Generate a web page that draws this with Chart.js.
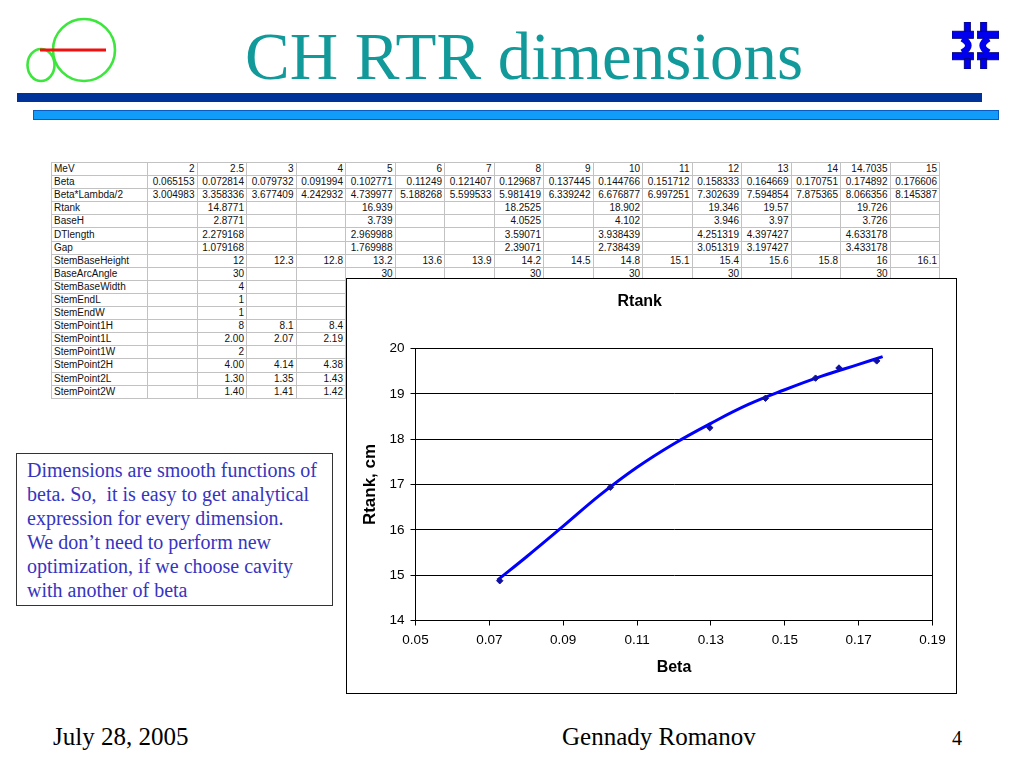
<!DOCTYPE html>
<html>
<head>
<meta charset="utf-8">
<title>CH RTR dimensions</title>
<script src="https://cdn.jsdelivr.net/npm/chart.js@4.4.1/dist/chart.umd.min.js"></script>
<style>
  html, body { margin:0; padding:0; background:#fff; }
  body { width:1024px; height:768px; position:relative; overflow:hidden;
         font-family:"Liberation Serif","Times New Roman",serif; }
  .abs { position:absolute; }

  #slideTitle { left:245px; top:23px; font-size:67px; line-height:67px; color:#129a9a; white-space:nowrap; }
  #barDark  { left:17px; top:93px; width:965px; height:9px; background:#003399; }
  #barLight { left:33px; top:110px; width:966px; height:10px; background:#129cfa;
              border:1px solid #0a5cc0; box-sizing:border-box; }

  #dataTable { left:51px; top:162px; border-collapse:collapse; table-layout:fixed;
               font-family:"Liberation Sans", Arial, sans-serif; font-size:10px; color:#111; }
  #dataTable td { border:1px solid #c2c2c2; height:12.1px; line-height:12px; padding:0 2px;
                  text-align:right; white-space:nowrap; overflow:hidden; }
  #dataTable td:first-child { text-align:left; }

  #chartBox { left:346px; top:278px; width:611px; height:416px; border:1.5px solid #000;
              box-sizing:border-box; background:#fff; z-index:2; }
  #chartBox canvas { position:absolute; left:0; top:0; }

  #note { left:16px; top:453px; width:317px; height:153px; border:1.5px solid #333;
          box-sizing:border-box; background:#fff; padding:4px 8px 0 10px;
          font-size:20px; line-height:24px; color:#3535c0; }

  .foot { font-size:25px; line-height:25px; color:#000; white-space:nowrap; }
  #footDate { left:53px; top:724px; }
  #footName { left:562px; top:724px; }
  #footPage { left:952px; top:728px; font-size:20px; line-height:20px; }
</style>
</head>
<body>

<!-- logos -->
<svg class="abs" style="left:0;top:0" width="130" height="92">
  <circle cx="84" cy="50" r="31" fill="none" stroke="#3ce63c" stroke-width="2.6"/>
  <ellipse cx="41" cy="65" rx="13.5" ry="16" fill="none" stroke="#3ce63c" stroke-width="2.6"/>
  <line x1="40" y1="50" x2="106" y2="50" stroke="#f01010" stroke-width="3"/>
</svg>
<svg class="abs" style="left:952px;top:22px" width="47" height="47" viewBox="0 0 46 46">
  <g fill="#0000ee" stroke="#000066" stroke-width="0.8">
    <rect x="12" y="0" width="6" height="10"/>
    <rect x="28" y="0" width="6" height="10"/>
    <rect x="0" y="9" width="21" height="7"/>
    <rect x="25" y="9" width="21" height="7"/>
    <rect x="0" y="30" width="21" height="7"/>
    <rect x="25" y="30" width="21" height="7"/>
    <rect x="12" y="36" width="6" height="10"/>
    <rect x="28" y="36" width="6" height="10"/>
  </g>
  <g fill="none" stroke="#0000ee" stroke-width="6.5">
    <path d="M10,16 Q22,23 10,30"/>
    <path d="M36,16 Q24,23 36,30"/>
  </g>
</svg>

<div id="slideTitle" class="abs">CH RTR dimensions</div>
<div id="barDark" class="abs"></div>
<div id="barLight" class="abs"></div>

<table id="dataTable" class="abs"></table>

<div id="chartBox" class="abs"><canvas id="chartRtank"></canvas></div>

<div id="note" class="abs">Dimensions are smooth functions of beta. So,&nbsp; it is easy to get analytical expression for every dimension.<br>We don’t need to perform new optimization, if we choose cavity with another of beta</div>

<div id="footDate" class="abs foot">July 28, 2005</div>
<div id="footName" class="abs foot">Gennady Romanov</div>
<div id="footPage" class="abs foot">4</div>

<script>
/* ===== DATA ===== */
// points of the chart (Rtank row of the table vs Beta)
const betaPts  = [0.072814, 0.102771, 0.129687, 0.144766, 0.158333, 0.164669, 0.174892];
const rtankPts = [14.8771, 16.939, 18.2525, 18.902, 19.346, 19.57, 19.726];

// fitted curve
const trendBeta = [0.0722, 0.08, 0.09, 0.10, 0.11, 0.12, 0.13, 0.14, 0.15, 0.16, 0.17, 0.1765];
const trendR    = [14.89, 15.40, 16.08, 16.77, 17.38, 17.90, 18.35, 18.76, 19.09, 19.39, 19.65, 19.82];

// axes
const xMin = 0.05, xMax = 0.19, xStep = 0.02;
const yMin = 14, yMax = 20, yStep = 1;

// table
const mev = ['2','2.5','3','4','5','6','7','8','9','10','11','12','13','14','14.7035','15'];
const tableRows = [
  ['MeV', ...mev],
  ['Beta','0.065153','0.072814','0.079732','0.091994','0.102771','0.11249','0.121407','0.129687','0.137445','0.144766','0.151712','0.158333','0.164669','0.170751','0.174892','0.176606'],
  ['Beta*Lambda/2','3.004983','3.358336','3.677409','4.242932','4.739977','5.188268','5.599533','5.981419','6.339242','6.676877','6.997251','7.302639','7.594854','7.875365','8.066356','8.145387'],
  ['Rtank','','14.8771','','','16.939','','','18.2525','','18.902','','19.346','19.57','','19.726',''],
  ['BaseH','','2.8771','','','3.739','','','4.0525','','4.102','','3.946','3.97','','3.726',''],
  ['DTlength','','2.279168','','','2.969988','','','3.59071','','3.938439','','4.251319','4.397427','','4.633178',''],
  ['Gap','','1.079168','','','1.769988','','','2.39071','','2.738439','','3.051319','3.197427','','3.433178',''],
  ['StemBaseHeight','','12','12.3','12.8','13.2','13.6','13.9','14.2','14.5','14.8','15.1','15.4','15.6','15.8','16','16.1'],
  ['BaseArcAngle','','30','','','30','','','30','','30','','30','','','30',''],
  ['StemBaseWidth','','4'],
  ['StemEndL','','1'],
  ['StemEndW','','1'],
  ['StemPoint1H','','8','8.1','8.4'],
  ['StemPoint1L','','2.00','2.07','2.19'],
  ['StemPoint1W','','2'],
  ['StemPoint2H','','4.00','4.14','4.38'],
  ['StemPoint2L','','1.30','1.35','1.43'],
  ['StemPoint2W','','1.40','1.41','1.42']
];

/* ===== TABLE ===== */
(function(){
  const table = document.getElementById('dataTable');
  const cg = document.createElement('colgroup');
  let html = '<col style="width:96px">';
  for (let i = 0; i < mev.length; i++) html += '<col style="width:49.5px">';
  cg.innerHTML = html;
  table.appendChild(cg);
  const body = document.createElement('tbody');
  tableRows.forEach(r => {
    const tr = document.createElement('tr');
    for (let i = 0; i <= mev.length; i++) {
      const td = document.createElement('td');
      td.textContent = r[i] || '';
      tr.appendChild(td);
    }
    body.appendChild(tr);
  });
  table.appendChild(body);
})();

/* ===== CHART ===== */
(function(){
  if (typeof Chart === 'undefined') return;
  const FONT = "'Liberation Sans', Arial, sans-serif";
  Chart.defaults.font.family = FONT;
  Chart.defaults.color = '#000';

  // black frame around the plot area
  const frame = {
    id: 'frame',
    beforeDatasetsDraw(chart){
      const a = chart.chartArea, c = chart.ctx;
      c.save();
      c.strokeStyle = '#000';
      c.lineWidth = 1;
      c.strokeRect(a.left, a.top, a.right - a.left, a.bottom - a.top);
      c.restore();
    }
  };

  new Chart(document.getElementById('chartRtank'), {
    type: 'scatter',
    data: {
      datasets: [
        {
          label: 'fit',
          data: trendBeta.map((b, i) => ({ x: b, y: trendR[i] })),
          showLine: true,
          borderColor: '#0000ff',
          borderWidth: 3,
          pointRadius: 0,
          tension: 0.4,
          order: 2
        },
        {
          label: 'Rtank',
          data: betaPts.map((b, i) => ({ x: b, y: rtankPts[i] })),
          pointStyle: 'rectRot',
          pointRadius: 3.2,
          backgroundColor: '#1010a0',
          borderColor: '#1010a0',
          borderWidth: 1,
          order: 1
        }
      ]
    },
    options: {
      responsive: true,
      maintainAspectRatio: false,
      animation: false,
      layout: { padding: { left: 0, right: 23.5, top: 0, bottom: 0 } },
      plugins: {
        legend: { display: false },
        tooltip: { enabled: false },
        title: {
          display: true, text: 'Rtank', color: '#000',
          font: { size: 16, weight: 'bold', family: FONT },
          padding: { top: 12.9, bottom: 37.4 }
        }
      },
      scales: {
        x: {
          type: 'linear', min: xMin, max: xMax,
          afterFit(s){ s.height = 72.5; },
          grid: { drawOnChartArea: false, drawTicks: true, tickLength: 5, tickColor: '#000', color: '#000' },
          border: { display: true, color: '#000', width: 1 },
          ticks: { stepSize: xStep, padding: 7, color: '#000', font: { size: 13.5 },
                   callback: v => Number(v).toFixed(2) },
          title: { display: true, text: 'Beta', color: '#000',
                   font: { size: 16, weight: 'bold', family: FONT },
                   padding: { top: 0, bottom: 15.9 } }
        },
        y: {
          type: 'linear', min: yMin, max: yMax,
          afterFit(s){ s.width = 68.5; },
          grid: { color: '#000', lineWidth: 1, drawTicks: true, tickLength: 5, tickColor: '#000' },
          border: { display: true, color: '#000', width: 1 },
          ticks: { stepSize: yStep, padding: 6, color: '#000', font: { size: 13.5 } },
          title: { display: true, text: 'Rtank, cm', color: '#000',
                   font: { size: 17, weight: 'bold', family: FONT },
                   padding: { top: 13.3, bottom: 0 } }
        }
      }
    },
    plugins: [frame]
  });
})();
</script>
</body>
</html>
